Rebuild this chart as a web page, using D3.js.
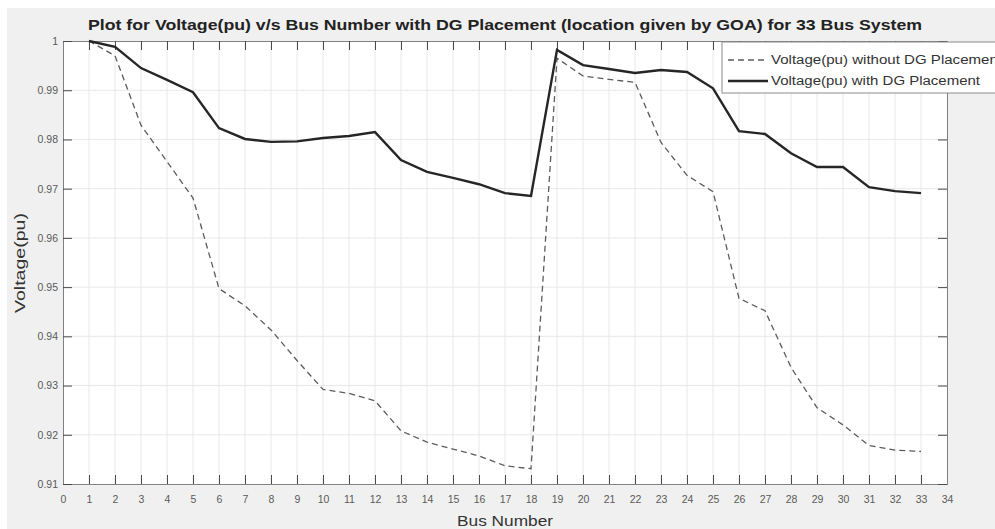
<!DOCTYPE html>
<html>
<head>
<meta charset="utf-8">
<script src="https://cdn.jsdelivr.net/npm/d3@7"></script>
<style>
  body { margin: 0; background: #fff; }
  svg { display: block; font-family: "Liberation Sans", Arial, sans-serif; }
</style>
</head>
<body>
<div id="chart"></div>
<script>
// bus numbers and voltage profiles
const buses = d3.range(1, 34);
const vWithout = [1.0, 0.997, 0.9829, 0.9755, 0.9681, 0.9497, 0.9462, 0.9413, 0.9351, 0.9292,
                  0.9284, 0.9269, 0.9208, 0.9185, 0.9171, 0.9157, 0.9137, 0.9131, 0.9965, 0.9929,
                  0.9922, 0.9916, 0.9794, 0.9727, 0.9694, 0.9477, 0.9452, 0.9337, 0.9255, 0.9220,
                  0.9178, 0.9169, 0.9166];
const vWith = [1.0, 0.9988, 0.9945, 0.9921, 0.9896, 0.9823, 0.9801, 0.9795, 0.9796, 0.9803,
               0.9807, 0.9815, 0.9758, 0.9734, 0.9722, 0.9709, 0.9691, 0.9685, 0.9982, 0.9951,
               0.9943, 0.9935, 0.9941, 0.9937, 0.9904, 0.9817, 0.9811, 0.9772, 0.9744, 0.9744,
               0.9703, 0.9695, 0.9691];
const xTicks = d3.range(0, 35);
const yTicks = [0.91, 0.92, 0.93, 0.94, 0.95, 0.96, 0.97, 0.98, 0.99, 1];
const seriesNames = ["Voltage(pu) without DG Placement", "Voltage(pu) with DG Placement"];

const W = 995, H = 529;
const margin = {top: 41, right: 48, bottom: 45, left: 63},
      width = W - margin.left - margin.right,
      height = H - margin.top - margin.bottom;

const root = d3.select("#chart").append("svg")
    .attr("width", W)
    .attr("height", H);

// grey figure area
root.append("rect")
    .attr("x", 7).attr("y", 8)
    .attr("width", W - 7).attr("height", H - 8)
    .style("fill", "#f0f0f0");

const svg = root.append("g")
    .attr("transform", `translate(${margin.left}, ${margin.top})`);

svg.append("rect")
    .attr("width", width).attr("height", height)
    .style("fill", "#fff");

const x = d3.scaleLinear().domain([0, 34]).range([0, width]);
const y = d3.scaleLinear().domain([0.91, 1]).range([height, 0]);

// grid lines
svg.append("g").selectAll("line").data(xTicks.slice(1, -1)).enter().append("line")
    .attr("x1", d => x(d)).attr("x2", d => x(d))
    .attr("y1", 0).attr("y2", height)
    .attr("stroke", "#e8e8e8");
svg.append("g").selectAll("line").data(yTicks.slice(1, -1)).enter().append("line")
    .attr("x1", 0).attr("x2", width)
    .attr("y1", d => y(d)).attr("y2", d => y(d))
    .attr("stroke", "#e8e8e8");

// axes, matlab style ticks pointing inwards
const fmtY = d => d === 1 ? "1" : d3.format(".2f")(d);
const xAxis = svg.append("g")
    .attr("transform", `translate(0,${height})`)
    .call(d3.axisBottom(x).tickValues(xTicks).tickSize(-9).tickPadding(12).tickFormat(d3.format("d")));
svg.append("g")
    .call(d3.axisTop(x).tickValues(xTicks).tickSize(-9).tickFormat(""));
const yAxis = svg.append("g")
    .call(d3.axisLeft(y).tickValues(yTicks).tickSize(-9).tickPadding(5).tickFormat(fmtY));
svg.append("g")
    .attr("transform", `translate(${width},0)`)
    .call(d3.axisRight(y).tickValues(yTicks).tickSize(-9).tickFormat(""));

svg.selectAll(".domain").attr("stroke", "#808080");
svg.selectAll(".tick line").attr("stroke", "#4a4a4a");
svg.selectAll(".tick text").attr("fill", "#5a5a5a").style("font-size", "10.5px");

// lines
const line = d3.line()
    .x((d, i) => x(buses[i]))
    .y(d => y(d));

svg.append("path")
    .datum(vWithout)
    .attr("d", line)
    .attr("fill", "none")
    .attr("stroke", "#5c5c5c")
    .attr("stroke-width", 1.3)
    .attr("stroke-dasharray", "6,4");

svg.append("path")
    .datum(vWith)
    .attr("d", line)
    .attr("fill", "none")
    .attr("stroke", "#262626")
    .attr("stroke-width", 2.4);

// title and axis labels
root.append("text")
    .attr("x", margin.left + width / 2)
    .attr("y", 30)
    .attr("text-anchor", "middle")
    .attr("textLength", 834)
    .attr("lengthAdjust", "spacingAndGlyphs")
    .style("font-size", "15px")
    .style("font-weight", "bold")
    .style("fill", "#222")
    .text("Plot for Voltage(pu) v/s Bus Number with DG Placement (location given by GOA) for 33 Bus System");

root.append("text")
    .attr("x", margin.left + width / 2)
    .attr("y", 526)
    .attr("text-anchor", "middle")
    .attr("textLength", 96)
    .attr("lengthAdjust", "spacingAndGlyphs")
    .style("font-size", "14px")
    .style("fill", "#333")
    .text("Bus Number");

root.append("text")
    .attr("transform", "rotate(-90)")
    .attr("x", -263)
    .attr("y", 25)
    .attr("text-anchor", "middle")
    .attr("textLength", 100)
    .attr("lengthAdjust", "spacingAndGlyphs")
    .style("font-size", "14px")
    .style("fill", "#333")
    .text("Voltage(pu)");

// legend
const legend = root.append("g").attr("transform", "translate(722,42)");
legend.append("rect")
    .attr("width", 300).attr("height", 51)
    .style("fill", "#fff")
    .style("stroke", "#8c8c8c");
const legendStyles = [
  {dash: "6,4", color: "#5c5c5c", w: 1.3, len: 231},
  {dash: null, color: "#262626", w: 2.4, len: 209}
];
seriesNames.forEach((name, i) => {
  const ly = 18 + i * 21;
  legend.append("line")
      .attr("x1", 6).attr("x2", 46)
      .attr("y1", ly).attr("y2", ly)
      .attr("stroke", legendStyles[i].color)
      .attr("stroke-width", legendStyles[i].w)
      .attr("stroke-dasharray", legendStyles[i].dash);
  legend.append("text")
      .attr("x", 49).attr("y", ly + 4)
      .attr("textLength", legendStyles[i].len)
      .attr("lengthAdjust", "spacingAndGlyphs")
      .style("font-size", "12.5px")
      .style("fill", "#333")
      .text(name);
});
</script>
</body>
</html>
